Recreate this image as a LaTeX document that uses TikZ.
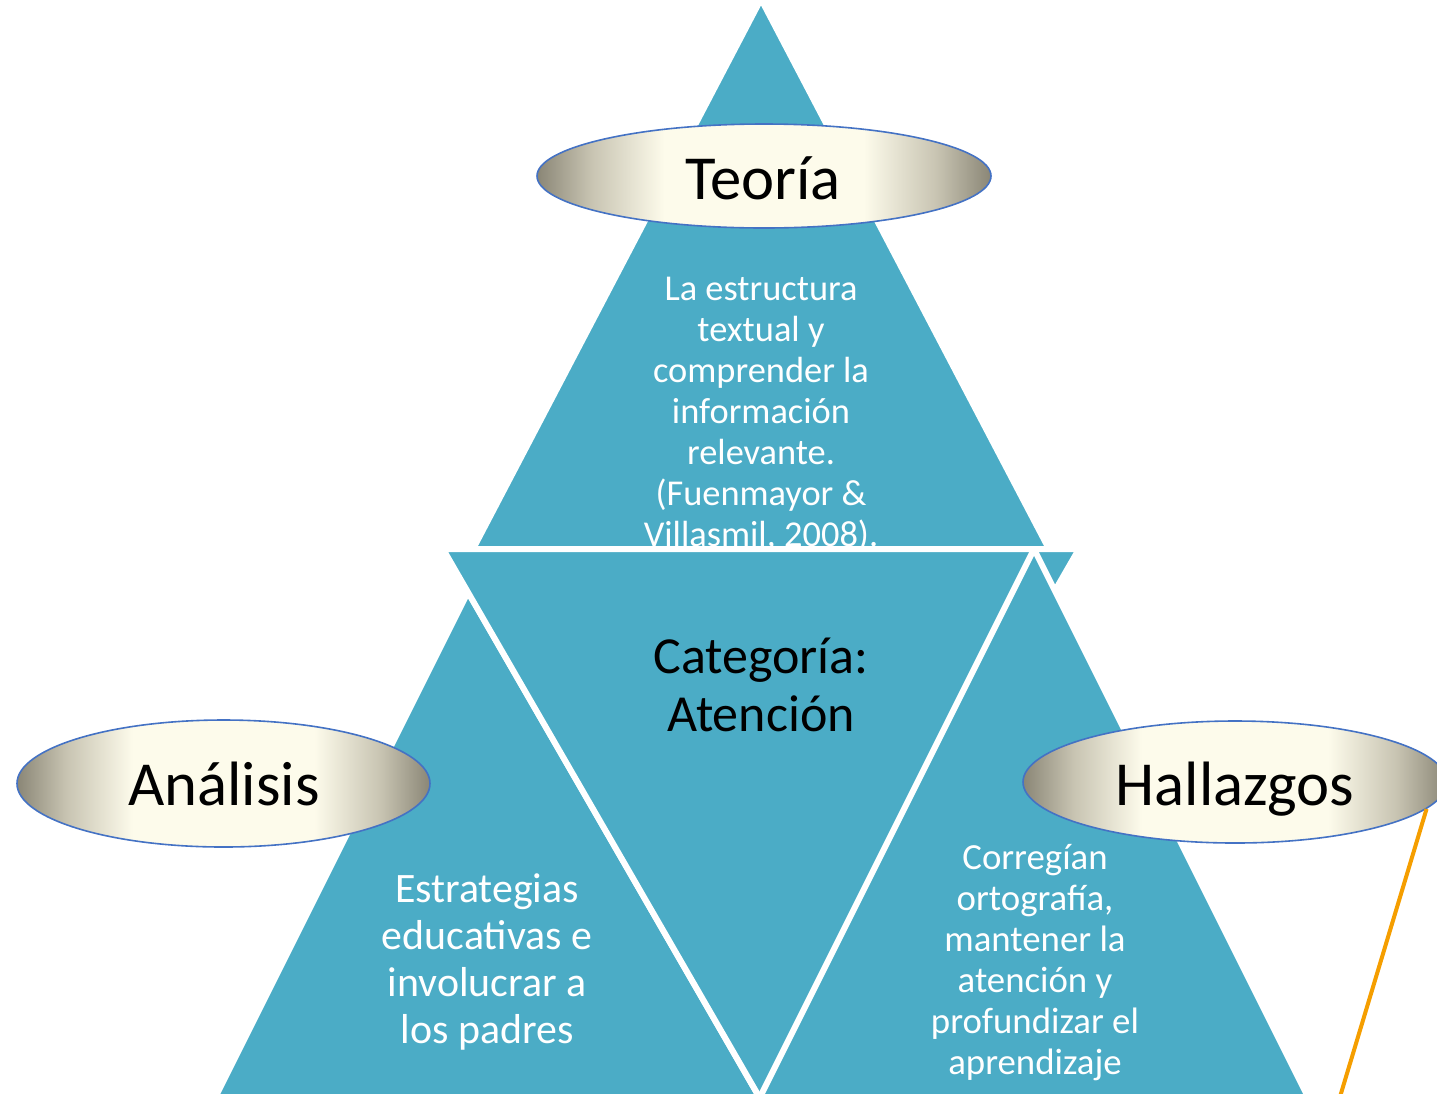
\documentclass[tikz,border=0pt]{standalone}
\usepackage{fontspec}
\setmainfont{Carlito}
\usetikzlibrary{shapes.geometric}
\definecolor{triTeal}{RGB}{75,172,198}
\definecolor{ellEdge}{RGB}{138,134,118}
\definecolor{ellMidA}{RGB}{200,196,178}
\definecolor{ellMid}{RGB}{253,251,235}
\definecolor{ellLine}{RGB}{68,114,196}
\definecolor{orangeLine}{RGB}{245,158,0}
\pgfdeclarehorizontalshading{ellshade}{100bp}{color(0bp)=(ellEdge); color(25bp)=(ellEdge); color(31bp)=(ellMidA); color(39bp)=(ellMid); color(61bp)=(ellMid); color(69bp)=(ellMidA); color(75bp)=(ellEdge); color(100bp)=(ellEdge)}
\begin{document}
\begin{tikzpicture}[x=0.75pt,y=-0.75pt,
  tri/.style={fill=triTeal, draw=white, line width=4.5pt, line join=round},
  ell/.style={ellipse, shading=ellshade, draw=ellLine, line width=1.2pt, inner sep=0pt},
  lbl/.style={font=\fontsize{47}{56}\selectfont, text=black, anchor=base, inner sep=0pt},
  wtext/.style={text=white, align=center, inner sep=0pt}]
\useasboundingbox (0,0) rectangle (1437,1093);
\clip (0,0) rectangle (1437,1093);
% top triangle
\draw[tri] (761,-1) -- (1049,549) -- (473,549) -- cycle;
\node[wtext, font=\fontsize{27.3}{30.75}\selectfont] (teoTxt) at (761,414)
  {La estructura\\textual y\\comprender la\\información\\relevante.\\(Fuenmayor \&\\Villasmil, 2008).};
% left triangle (right edge hidden under the central triangle)
\draw[tri] (468,592) -- (822,1206) -- (161,1206) -- cycle;
% central inverted triangle
\draw[tri] (443,549) -- (1079,549) -- (761,1100) -- cycle;
% right triangle
\draw[tri] (1034,549) -- (1341,1163) -- (727,1163) -- cycle;
% texts
\node[font=\fontsize{39}{44}\selectfont, align=center, inner sep=0pt] (catTxt) at (761,685) {Categoría:\\Atención};
\node[wtext, font=\fontsize{31.4}{35.25}\selectfont] (anaTxt) at (487,962)
  {Estrategias\\educativas e\\involucrar a\\los padres};
\node[wtext, font=\fontsize{27.6}{30.75}\selectfont] (halTxt) at (1035,963)
  {Corregían\\ortografía,\\mantener la\\atención y\\profundizar el\\aprendizaje};
% ellipses
\node[ell, minimum width=340.5pt, minimum height=78pt] (teoE) at (764,176) {};
\node[lbl] (teoL) at (763,199) {Teoría};
\node[ell, minimum width=309.75pt, minimum height=95.25pt] (anaE) at (223.5,783.5) {};
\node[lbl] (anaL) at (224,805) {Análisis};
\node[ell, minimum width=318pt, minimum height=91.5pt] (halE) at (1235,782) {};
\node[lbl] (halL) at (1235,805) {Hallazgos};
% orange line
\coordinate (oEnd) at (1336,1110);
\draw[orangeLine, line width=3pt] (halE.-8.5) -- (oEnd);
\end{tikzpicture}
\end{document}
